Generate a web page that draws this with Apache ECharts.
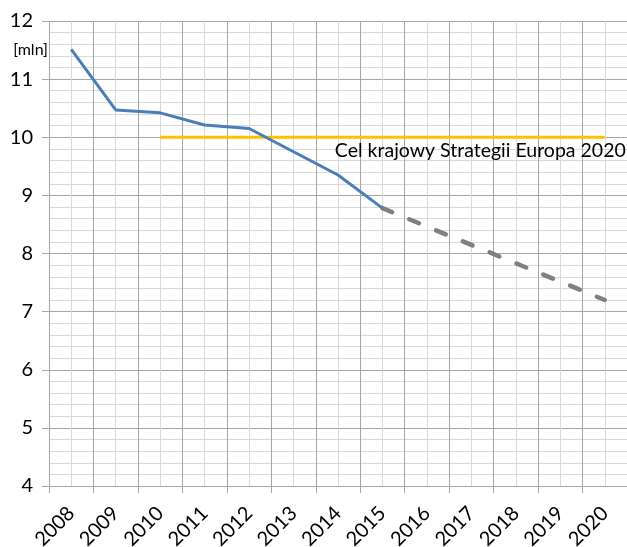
<!DOCTYPE html>
<html>
<head>
<meta charset="utf-8">
<script src="https://cdn.jsdelivr.net/npm/echarts@6/dist/echarts.min.js"></script>
<style>html,body{margin:0;padding:0;background:#fff}#c{width:627px;height:547px}</style>
</head>
<body>
<div id="c"></div>
<script>
var years = ['2008','2009','2010','2011','2012','2013','2014','2015','2016','2017','2018','2019','2020'];
var actual = [11.51, 10.47, 10.42, 10.21, 10.15, 9.75, 9.35, 8.78, null, null, null, null, null];
var forecast = [null, null, null, null, null, null, null, 8.78, null, null, null, null, 7.2];
var target = [null, null, 10, 10, 10, 10, 10, 10, 10, 10, 10, 10, 10];
var targetLabel = 'Cel krajowy Strategii Europa 2020';
var yUnit = '[mln]';

var FONT = 'Lato';
var chart = echarts.init(document.getElementById('c'), null, {renderer: 'canvas'});
chart.setOption({
  animation: false,
  grid: {left: 49, right: 0, top: 21, bottom: 61, containLabel: false, outerBoundsMode: 'none'},
  xAxis: [{
    type: 'category',
    data: years,
    boundaryGap: true,
    axisLine: {show: true, lineStyle: {color: '#a6a6a6', width: 1}},
    axisTick: {show: true, length: 7, lineStyle: {color: '#a6a6a6'}},
    axisLabel: {rotate: 45, margin: 24, fontFamily: FONT, fontSize: 20, color: '#000', interval: 0},
    splitLine: {show: true, lineStyle: {color: '#a6a6a6', width: 1}},
    z: 2
  }, {
    type: 'value',
    min: 0, max: 26, interval: 1,
    position: 'bottom',
    axisLine: {show: false}, axisTick: {show: false}, axisLabel: {show: false},
    splitLine: {show: true, lineStyle: {color: '#d9d9d9', width: 1}},
    z: 1
  }],
  yAxis: {
    type: 'value',
    min: 4, max: 12, interval: 1,
    name: yUnit,
    nameLocation: 'end',
    nameGap: -29,
    nameTextStyle: {fontFamily: FONT, fontSize: 16, color: '#000', align: 'right', verticalAlign: 'middle', padding: [0, 1, 0, 0]},
    axisLine: {show: false},
    axisTick: {show: true, length: 7, lineStyle: {color: '#a6a6a6'}},
    axisLabel: {margin: 16, fontFamily: FONT, fontSize: 20, color: '#000'},
    splitLine: {show: true, lineStyle: {color: '#a6a6a6', width: 1}},
    minorTick: {show: false, splitNumber: 5},
    minorSplitLine: {show: true, lineStyle: {color: '#d9d9d9', width: 1}}
  },
  series: [{
    type: 'line', xAxisIndex: 0,
    data: target,
    showSymbol: false, symbol: 'none',
    lineStyle: {color: '#ffc000', width: 3},
    endLabel: {show: true, formatter: targetLabel, align: 'right', verticalAlign: 'top', offset: [13, 3], fontFamily: FONT, fontSize: 19.5, color: '#000'},
    z: 3
  }, {
    type: 'line', data: forecast, xAxisIndex: 0, connectNulls: true,
    showSymbol: false, symbol: 'none',
    lineStyle: {color: '#808080', width: 4.5, type: [10.5, 18.5], cap: 'round'},
    z: 4
  }, {
    type: 'line', data: actual, xAxisIndex: 0,
    showSymbol: false, symbol: 'none',
    lineStyle: {color: '#4a7ebb', width: 3},
    z: 5
  }]
});
</script>
</body>
</html>
